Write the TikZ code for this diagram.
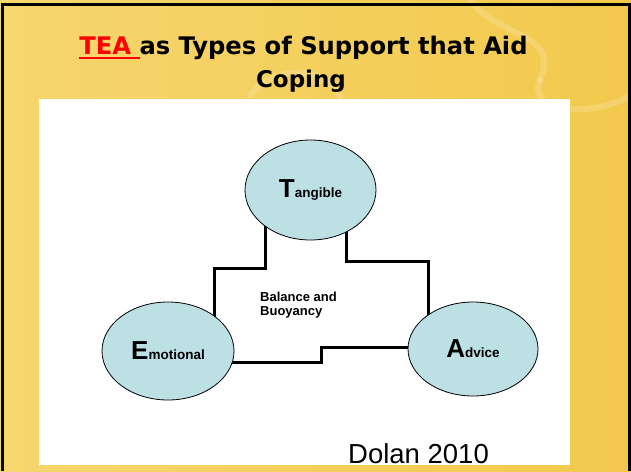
\documentclass[tikz,border=0pt]{standalone}
\usepackage{fontspec}
\setmainfont{Liberation Sans}
\newfontfamily\titlefont{DejaVu Sans}
\usetikzlibrary{shapes.geometric}
\usetikzlibrary{calc}
\definecolor{goldback}{RGB}{242,201,76}
\definecolor{goldlight}{RGB}{246,214,110}
\definecolor{bubble}{RGB}{188,224,228}
\definecolor{teared}{RGB}{255,0,0}
\tikzset{support/.style={ellipse,draw=black,line width=0.8pt,fill=bubble,inner sep=0}}
\tikzset{wire/.style={black,line width=3pt}}
\tikzset{ribbon/.style={white,opacity=0.18,line width=6pt,line cap=round}}
\newcommand\bigletter[1]{{\fontsize{26}{26}\selectfont\bfseries #1}}
\newcommand\restof[1]{{\fontsize{13.5}{13.5}\selectfont\bfseries #1}}
\newcommand\teaunder[1]{\setbox0\hbox{#1}\rlap{\rule[-5pt]{\wd0}{2pt}}\box0}
\pgfdeclarelayer{back}
\pgfdeclarelayer{wires}
\pgfsetlayers{back,wires,main}

\begin{document}
\begin{tikzpicture}[x=1pt,y=-1pt]
  \useasboundingbox (0,0) rectangle (631,471);

  % slide and white panel
  \begin{pgfonlayer}{back}
    \shade[left color=goldlight, right color=goldback] (0,0) rectangle (631,471);
    \draw[ribbon] (470,0) .. controls (500,40) and (560,30) .. (540,80);
    \draw[ribbon] (540,80) .. controls (525,110) and (590,120) .. (631,95);
    \draw[ribbon] (250,95) .. controls (280,60) and (330,70) .. (340,98);
    \fill[white] (39,99) rectangle (570,465);
    \draw[line width=3pt] (2,471) -- (2,4.5) -- (629.5,4.5) -- (629.5,471);
  \end{pgfonlayer}

  % title
  \node[anchor=base, inner sep=0] (title) at (303.5,54)
    {\titlefont\bfseries\fontsize{24.2}{24.2}\selectfont
     \textcolor{teared}{\teaunder{TEA\ }}as Types of Support that Aid};
  \node[anchor=base, inner sep=0] (coping) at (301,87)
    {\titlefont\bfseries\fontsize{23}{23}\selectfont Coping};

  % the three supports
  \node[support, minimum width=131pt, minimum height=100pt] (tangible) at (310.5,190)
    {\bigletter{T}\restof{angible}};
  \node[support, minimum width=132pt, minimum height=98pt] (emotional) at (168,351)
    {\bigletter{E}\restof{motional}};
  \node[support, minimum width=130pt, minimum height=94pt] (advice) at (473,349)
    {\bigletter{A}\restof{dvice}};

  \node[anchor=north west, inner sep=0, align=left,
        font=\bfseries\fontsize{13}{14.3}\selectfont] (balance) at (260,291.5)
    {Balance and\\Buoyancy};

  % links
  \coordinate (leftstep) at (214,268);
  \coordinate (rightstep) at (428,261);
  \coordinate (lowstep) at (321,347);
  \begin{pgfonlayer}{wires}
    \draw[wire] ($(tangible.center)+(-45.5,0)$) |- (leftstep) -- (leftstep |- emotional.center);
    \draw[wire] ($(tangible.center)+(35.5,0)$) |- (rightstep) -- (rightstep |- advice.center);
    \draw[wire] ($(emotional.center)+(0,11)$) -| (lowstep) -- (lowstep -| advice.center);
  \end{pgfonlayer}

  \node[anchor=base west, inner sep=0, font=\fontsize{27.5}{27.5}\selectfont] (source) at (348,463)
    {Dolan 2010};

\end{tikzpicture}
\end{document}
